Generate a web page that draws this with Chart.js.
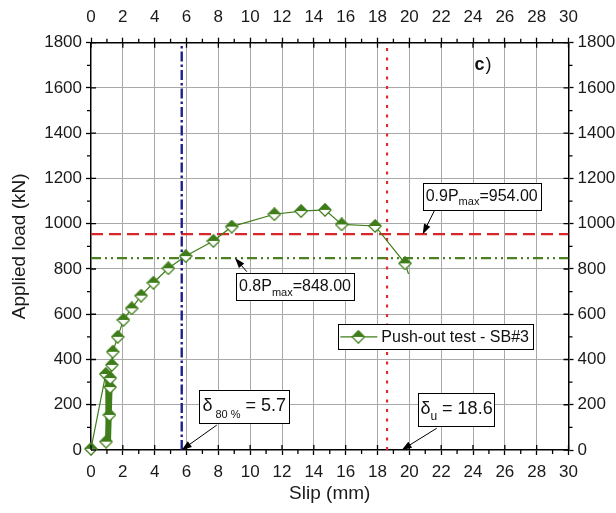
<!DOCTYPE html>
<html>
<head>
<meta charset="utf-8">
<script src="https://cdn.jsdelivr.net/npm/chart.js@4.4.1/dist/chart.umd.min.js"></script>
<style>
  html, body { margin: 0; padding: 0; background: #fff; }
  #chart { display: block; }
</style>
</head>
<body>
<canvas id="chart" width="616" height="513"></canvas>
<script>
// Push-out test SB#3 - slip (mm) vs applied load (kN)
const startSlip = [0, 0.93, 0.95];
const startLoad = [5, 336, 37];
// unloading / reloading cycles (line only, no markers)
const cycleSlip = [1.00, 0.92, 1.05, 0.98, 1.10, 1.03, 1.15, 1.08, 1.20, 1.12, 1.25, 1.17, 1.30, 1.22, 1.34, 1.20];
const cycleLoad = [330, 40, 327, 36, 331, 41, 328, 39, 330, 42, 326, 40, 329, 38, 332, 41];
const envelopeSlip = [1.16, 1.20, 1.21, 1.31, 1.37, 1.68, 2.04, 2.56, 3.15, 3.92, 4.86, 5.95, 7.69, 8.84, 11.52, 13.2, 14.7, 15.75, 17.85, 19.73];
const envelopeLoad = [155, 278, 318, 376, 434, 500, 575, 626, 682, 739, 803, 857, 924, 987, 1042, 1056, 1061, 997, 990, 825];
const endSlip = [19.95];
const endLoad = [778];

// axis ticks
const slipTicks = [0, 2, 4, 6, 8, 10, 12, 14, 16, 18, 20, 22, 24, 26, 28, 30];
const loadTicks = [0, 200, 400, 600, 800, 1000, 1200, 1400, 1600, 1800];

// characteristic values
const load80 = 848;
const load90 = 954;
const delta80 = 5.7;
const deltaU = 18.6;

const FONT = "'Liberation Sans', Arial, Helvetica, sans-serif";
const GREEN = '#3f7d1a';

function makeDiamond(color) {
    const c = document.createElement('canvas');
    c.width = 14;
    c.height = 14;
    const g = c.getContext('2d');
    const m = 7;
    g.beginPath();
    g.moveTo(m, 0.8); g.lineTo(13.2, m); g.lineTo(m, 13.2); g.lineTo(0.8, m);
    g.closePath();
    g.fillStyle = '#fff';
    g.fill();
    g.beginPath();
    g.moveTo(m, 0.8); g.lineTo(13.2, m); g.lineTo(0.8, m);
    g.closePath();
    g.fillStyle = color;
    g.fill();
    g.beginPath();
    g.moveTo(m, 0.8); g.lineTo(13.2, m); g.lineTo(m, 13.2); g.lineTo(0.8, m);
    g.closePath();
    g.strokeStyle = color;
    g.lineWidth = 1.3;
    g.stroke();
    return c;
}
const diamond = makeDiamond(GREEN);

// build the path, remembering which points carry a marker
const pathPoints = [];
function addPoints(xs, ys, marked) {
    xs.forEach((x, i) => pathPoints.push({ x: x, y: ys[i], marked: marked }));
}
addPoints(startSlip, startLoad, true);
addPoints(cycleSlip, cycleLoad, false);
addPoints(envelopeSlip, envelopeLoad, true);
addPoints(endSlip, endLoad, false);

function setTicks(values) {
    return scale => { scale.ticks = values.map(v => ({ value: v })); };
}

function drawArrow(ctx, x1, y1, x2, y2) {
    const ang = Math.atan2(y2 - y1, x2 - x1);
    const len = 10, half = 3.5;
    ctx.save();
    ctx.strokeStyle = '#000';
    ctx.fillStyle = '#000';
    ctx.lineWidth = 1;
    ctx.beginPath();
    ctx.moveTo(x1, y1);
    ctx.lineTo(x2 - Math.cos(ang) * len * 0.8, y2 - Math.sin(ang) * len * 0.8);
    ctx.stroke();
    ctx.beginPath();
    ctx.moveTo(x2, y2);
    ctx.lineTo(x2 - Math.cos(ang) * len - Math.sin(ang) * half, y2 - Math.sin(ang) * len + Math.cos(ang) * half);
    ctx.lineTo(x2 - Math.cos(ang) * len + Math.sin(ang) * half, y2 - Math.sin(ang) * len - Math.cos(ang) * half);
    ctx.closePath();
    ctx.fill();
    ctx.restore();
}

// text box with sub-scripts: parts = [text, size, dy]
function drawTextBox(ctx, x, y, h, base, padX, parts) {
    let w = 0;
    parts.forEach(p => {
        ctx.font = p[1] + 'px ' + FONT;
        p.w = ctx.measureText(p[0]).width;
        w += p.w;
    });
    ctx.save();
    ctx.fillStyle = '#fff';
    ctx.fillRect(x, y, w + padX * 2, h);
    ctx.strokeStyle = '#000';
    ctx.lineWidth = 1;
    ctx.strokeRect(Math.round(x) + 0.5, Math.round(y) + 0.5, Math.round(w + padX * 2), Math.round(h));
    ctx.fillStyle = '#111';
    ctx.textBaseline = 'alphabetic';
    ctx.textAlign = 'left';
    let cx = x + padX;
    parts.forEach(p => {
        ctx.font = p[1] + 'px ' + FONT;
        ctx.fillText(p[0], cx, y + base + p[2]);
        cx += p.w;
    });
    ctx.restore();
}

const decorPlugin = {
    id: 'decor',
    afterDraw(chart) {
        const ctx = chart.ctx;
        const xs = chart.scales.x, ys = chart.scales.y;
        const area = chart.chartArea;
        const px = v => xs.getPixelForValue(v);
        const py = v => ys.getPixelForValue(v);

        // minor ticks (outside) and inner parts of major ticks
        ctx.save();
        ctx.strokeStyle = '#000';
        ctx.lineWidth = 1.3;
        ctx.beginPath();
        for (let i = 0; i < slipTicks.length; i++) {
            const p = px(slipTicks[i]);
            ctx.moveTo(p, area.bottom); ctx.lineTo(p, area.bottom - 5);
            ctx.moveTo(p, area.top); ctx.lineTo(p, area.top + 5);
            if (i < slipTicks.length - 1) {
                const m = px((slipTicks[i] + slipTicks[i + 1]) / 2);
                ctx.moveTo(m, area.bottom); ctx.lineTo(m, area.bottom + 4);
                ctx.moveTo(m, area.top); ctx.lineTo(m, area.top - 4);
            }
        }
        for (let i = 0; i < loadTicks.length; i++) {
            const p = py(loadTicks[i]);
            ctx.moveTo(area.left, p); ctx.lineTo(area.left + 5, p);
            ctx.moveTo(area.right, p); ctx.lineTo(area.right - 5, p);
            if (i < loadTicks.length - 1) {
                const m = py((loadTicks[i] + loadTicks[i + 1]) / 2);
                ctx.moveTo(area.left, m); ctx.lineTo(area.left - 4, m);
                ctx.moveTo(area.right, m); ctx.lineTo(area.right + 4, m);
            }
        }
        ctx.stroke();
        ctx.restore();

        // annotations
        drawArrow(ctx, px(21.57), py(1057), px(20.84), py(load90));
        drawTextBox(ctx, px(20.84), py(1181), 27, 18, 3,
            [['0.9P', 16, 0], ['max', 11, 4.5], ['=' + load90.toFixed(2), 16, 0]]);

        drawArrow(ctx, px(9.79), py(788), px(9.05), py(load80));
        drawTextBox(ctx, px(9.11), py(782), 27, 18, 3,
            [['0.8P', 16, 0], ['max', 11, 4.5], ['=' + load80.toFixed(2), 16, 0]]);

        drawArrow(ctx, px(7.9), py(110), px(delta80), py(0));
        drawTextBox(ctx, px(6.81), py(265), 33, 21, 3,
            [['\u03b4', 18, 0], [' 80 %', 11, 7], [' = ' + delta80, 18, 0]]);

        drawArrow(ctx, px(21.72), py(96), px(19.52), py(0));
        drawTextBox(ctx, px(20.57), py(250), 33, 21, 2,
            [['\u03b4', 18, 0], ['u', 12, 6], [' = ' + deltaU, 18, 0]]);

        // legend
        const lx = px(15.54), ly = py(555);
        ctx.save();
        ctx.font = '16px ' + FONT;
        const tw = ctx.measureText('Push-out test - SB#3').width;
        ctx.fillStyle = '#fff';
        ctx.fillRect(lx, ly, tw + 47, 25);
        ctx.strokeStyle = '#000';
        ctx.lineWidth = 1;
        ctx.strokeRect(Math.round(lx) + 0.5, Math.round(ly) + 0.5, Math.round(tw + 47), 25);
        ctx.strokeStyle = GREEN;
        ctx.lineWidth = 1.2;
        ctx.beginPath();
        ctx.moveTo(lx + 2, ly + 12.5);
        ctx.lineTo(lx + 39, ly + 12.5);
        ctx.stroke();
        ctx.drawImage(diamond, lx + 20 - 7, ly + 12.5 - 7);
        ctx.fillStyle = '#111';
        ctx.textBaseline = 'alphabetic';
        ctx.fillText('Push-out test - SB#3', lx + 43, ly + 18);
        ctx.restore();

        // panel label
        ctx.save();
        ctx.fillStyle = '#111';
        ctx.textBaseline = 'alphabetic';
        ctx.font = 'bold 18px ' + FONT;
        const cx = px(24.1), cy = py(1679);
        ctx.fillText('c', cx, cy);
        const cw = ctx.measureText('c').width;
        ctx.font = '18px ' + FONT;
        ctx.fillText(')', cx + cw + 1, cy);
        ctx.restore();
    }
};

function refLine(points, color, dash, width) {
    return {
        data: points,
        borderColor: color,
        borderWidth: width,
        borderDash: dash,
        pointRadius: 0,
        fill: false,
        tension: 0
    };
}

const gridColor = ctx => {
    const v = ctx.tick ? ctx.tick.value : null;
    const first = ctx.scale.min, last = ctx.scale.max;
    return (v === first || v === last) ? 'rgba(0,0,0,0)' : '#a9a9a9';
};

const plainLabel = v => String(v);
const tickFont = { family: FONT, size: 17 };
const titleFont = { family: FONT, size: 19 };

new Chart(document.getElementById('chart'), {
    type: 'line',
    data: {
        datasets: [
            {
                label: 'Push-out test - SB#3',
                data: pathPoints,
                borderColor: GREEN,
                borderWidth: 1.2,
                pointStyle: diamond,
                pointRadius: ctx => (ctx.raw && ctx.raw.marked) ? 6 : 0,
                fill: false,
                tension: 0,
                clip: false
            },
            refLine([{ x: delta80, y: 0 }, { x: delta80, y: 1800 }], '#20208c', [10, 3, 2.5, 3], 2.4),
            refLine([{ x: 0, y: load90 }, { x: 30, y: load90 }], '#d8262b', [12, 6], 2.2),
            refLine([{ x: 0, y: load80 }, { x: 30, y: load80 }], '#4c8120', [10, 4, 2, 4, 2, 4], 2.2),
            refLine([{ x: deltaU, y: 0 }, { x: deltaU, y: 1800 }], '#e02a2e', [3, 6.5], 2.2)
        ]
    },
    options: {
        responsive: false,
        animation: false,
        devicePixelRatio: 1,
        layout: { padding: 0 },
        plugins: {
            legend: { display: false },
            tooltip: { enabled: false },
            title: { display: false }
        },
        scales: {
            x: {
                type: 'linear',
                position: 'bottom',
                min: 0,
                max: 30,
                afterBuildTicks: setTicks(slipTicks),
                afterFit: s => { s.height = 63; },
                ticks: { font: tickFont, color: '#1a1a1a', padding: 7, maxRotation: 0, autoSkip: false, callback: plainLabel },
                grid: { color: gridColor, lineWidth: 1, tickLength: 5, tickColor: '#000', tickWidth: 1.3 },
                border: { color: '#000', width: 1.5 },
                title: { display: true, text: 'Slip (mm)', font: titleFont, color: '#1a1a1a', padding: { top: 0, bottom: 7.5 } }
            },
            x2: {
                type: 'linear',
                position: 'top',
                min: 0,
                max: 30,
                afterBuildTicks: setTicks(slipTicks),
                afterFit: s => { s.height = 42.7; },
                ticks: { font: tickFont, color: '#1a1a1a', padding: 10, maxRotation: 0, autoSkip: false, callback: plainLabel },
                grid: { drawOnChartArea: false, tickLength: 5, tickColor: '#000', tickWidth: 1.3 },
                border: { color: '#000', width: 1.5 }
            },
            y: {
                type: 'linear',
                position: 'left',
                min: 0,
                max: 1800,
                afterBuildTicks: setTicks(loadTicks),
                afterFit: s => { s.width = 91; },
                ticks: { font: tickFont, color: '#1a1a1a', padding: 4, autoSkip: false, callback: plainLabel },
                grid: { color: gridColor, lineWidth: 1, tickLength: 5, tickColor: '#000', tickWidth: 1.3 },
                border: { color: '#000', width: 1.5 },
                title: { display: true, text: 'Applied load (kN)', font: titleFont, color: '#1a1a1a', padding: { top: 8.5, bottom: 0 } }
            },
            y2: {
                type: 'linear',
                position: 'right',
                min: 0,
                max: 1800,
                afterBuildTicks: setTicks(loadTicks),
                afterFit: s => { s.width = 47.5; },
                ticks: { font: tickFont, color: '#1a1a1a', padding: 4, autoSkip: false, callback: plainLabel },
                grid: { drawOnChartArea: false, tickLength: 5, tickColor: '#000', tickWidth: 1.3 },
                border: { color: '#000', width: 1.5 }
            }
        }
    },
    plugins: [decorPlugin]
});
</script>
</body>
</html>
